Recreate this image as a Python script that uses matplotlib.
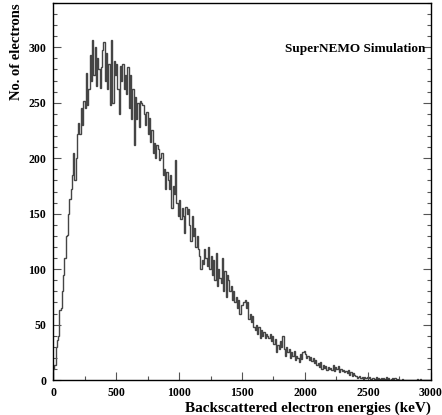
import numpy as np
import matplotlib
matplotlib.use("Agg")
import matplotlib.pyplot as plt
from matplotlib.ticker import MultipleLocator

# 10 keV bins, 0-3000 keV
bin_width = 10
counts = [
    10, 14, 30, 36, 40, 63, 65, 80, 95, 110,
    130, 131, 150, 163, 172, 185, 205, 180, 200, 222,
    232, 222, 245, 230, 252, 245, 277, 248, 262, 293,
    270, 307, 275, 300, 265, 290, 280, 263, 282, 298,
    305, 270, 295, 262, 285, 248, 307, 250, 288, 275,
    285, 262, 240, 283, 270, 285, 262, 275, 258, 282,
    245, 275, 235, 262, 212, 255, 235, 250, 228, 252,
    250, 248, 240, 230, 242, 222, 236, 215, 225, 205,
    214, 200, 212, 208, 198, 200, 205, 185, 190, 172,
    188, 180, 172, 185, 155, 175, 168, 198, 160, 148,
    162, 145, 155, 148, 133, 156, 150, 154, 140, 125,
    148, 130, 137, 120, 130, 118, 112, 100, 108, 105,
    118, 110, 103, 120, 100, 112, 95, 108, 90, 115,
    85, 100, 92, 88, 110, 80, 98, 75, 95, 90,
    80, 85, 72, 80, 70, 75, 65, 72, 60, 68,
    68, 70, 72, 65, 70, 55, 60, 52, 58, 48,
    45, 50, 42, 48, 38, 45, 40, 43, 38, 42,
    40, 38, 42, 35, 40, 33, 37, 25, 32, 28,
    35, 30, 40, 28, 22, 30, 25, 28, 20, 25,
    22, 26, 18, 22, 20, 16, 24, 19, 25, 26,
    24, 20, 22, 18, 21, 17, 20, 15, 18, 14,
    15, 12, 16, 10, 14, 11, 13, 9, 12, 10,
    11, 9, 14, 8, 12, 10, 13, 7, 10, 8,
    9, 7, 8, 6, 9, 5, 7, 4, 6, 5,
    4, 2, 3, 4, 2, 3, 1, 3, 2, 3,
    2, 3, 1, 2, 2, 1, 3, 1, 2, 1,
    2, 1, 2, 1, 3, 1, 2, 0, 1, 2,
    1, 2, 1, 0, 1, 0, 0, 1, 0, 0,
    0, 0, 0, 0, 0, 0, 0, 0, 0, 1,
    0, 1, 0, 0, 0, 0, 0, 0, 0, 0,
]
x_label = "Backscattered electron energies (keV)"
y_label = "No. of electrons"
annotation = "SuperNEMO Simulation"

edges = np.arange(len(counts) + 1) * bin_width

plt.rcParams['font.family'] = ['Liberation Serif', 'DejaVu Serif']
plt.rcParams['font.weight'] = 'bold'

fig = plt.figure(figsize=(4.42, 4.15), dpi=100)
ax = fig.add_axes([0.12, 0.084, 0.855, 0.909])
ax.stairs(counts, edges, color='#454545', linewidth=1.0)

ax.set_xlim(0, 3000)
ax.set_ylim(0, 340)
ax.xaxis.set_major_locator(MultipleLocator(500))
ax.xaxis.set_minor_locator(MultipleLocator(250))
ax.yaxis.set_major_locator(MultipleLocator(50))
ax.yaxis.set_minor_locator(MultipleLocator(10))
ax.tick_params(which='both', direction='in', right=True, top=False,
               labelsize=8.5, pad=5, width=0.8, color='#555555')
ax.tick_params(which='major', length=6)
ax.tick_params(which='minor', length=3)
for lab in ax.get_xticklabels() + ax.get_yticklabels():
    lab.set_fontweight('bold')
for s in ax.spines.values():
    s.set_linewidth(1.0)

ax.set_xlabel(x_label, fontsize=11, fontweight='bold', loc='right', labelpad=2)
ax.set_ylabel(y_label, fontsize=10.5, fontweight='bold', loc='top', labelpad=4)
ax.text(0.985, 0.878, annotation, transform=ax.transAxes, ha='right', va='center',
        fontsize=9.5, fontweight='bold')

fig.savefig("out.png", dpi=100)
